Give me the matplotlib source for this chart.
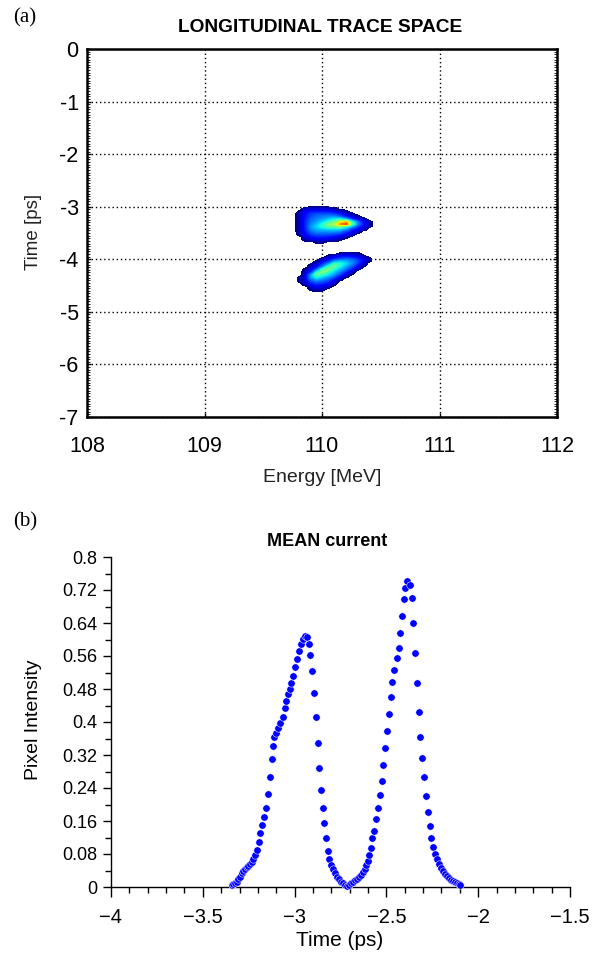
import numpy as np
import matplotlib
matplotlib.use("Agg")
import matplotlib.pyplot as plt
from matplotlib.ticker import MultipleLocator, FuncFormatter

plt.rcParams['font.family'] = ['Liberation Sans', 'DejaVu Sans']

# ---------------- Panel (a): longitudinal trace space ----------------
energy_centers = [109.80, 109.85, 109.90, 109.95, 110.00, 110.05, 110.10,
                  110.15, 110.20, 110.25, 110.30, 110.35, 110.40]
time_rows_upper = [-3.05, -3.10, -3.15, -3.20, -3.25, -3.30, -3.35,
                   -3.40, -3.45, -3.50, -3.55, -3.60, -3.65, -3.70]
density_upper = [
    [0, 0.06, 0.08, 0.08, 0.08, 0.07, 0.06, 0, 0, 0, 0, 0, 0],
    [0.04, 0.12, 0.15, 0.16, 0.16, 0.15, 0.12, 0.08, 0.05, 0, 0, 0, 0],
    [0.07, 0.15, 0.20, 0.22, 0.22, 0.22, 0.20, 0.16, 0.10, 0.05, 0, 0, 0],
    [0.07, 0.16, 0.22, 0.25, 0.27, 0.28, 0.28, 0.24, 0.16, 0.10, 0.06, 0, 0],
    [0.07, 0.17, 0.24, 0.28, 0.30, 0.34, 0.38, 0.40, 0.32, 0.20, 0.12, 0.07, 0],
    [0.07, 0.18, 0.26, 0.30, 0.36, 0.42, 0.50, 0.62, 0.70, 0.42, 0.25, 0.14, 0.06],
    [0.07, 0.18, 0.28, 0.34, 0.42, 0.52, 0.58, 0.80, 0.88, 0.50, 0.28, 0.16, 0.07],
    [0.07, 0.18, 0.30, 0.36, 0.42, 0.48, 0.50, 0.52, 0.42, 0.30, 0.20, 0.12, 0.05],
    [0.07, 0.17, 0.28, 0.32, 0.34, 0.35, 0.36, 0.34, 0.28, 0.20, 0.14, 0.08, 0],
    [0.07, 0.16, 0.24, 0.28, 0.28, 0.28, 0.28, 0.26, 0.20, 0.14, 0.08, 0, 0],
    [0.06, 0.14, 0.20, 0.22, 0.22, 0.22, 0.20, 0.18, 0.14, 0.08, 0, 0, 0],
    [0, 0.10, 0.15, 0.17, 0.17, 0.16, 0.14, 0.10, 0.06, 0, 0, 0, 0],
    [0, 0.06, 0.09, 0.10, 0.10, 0.09, 0.07, 0.05, 0, 0, 0, 0, 0],
    [0, 0, 0, 0.05, 0.05, 0, 0, 0, 0, 0, 0, 0, 0],
]
time_rows_lower = [-3.90, -3.95, -4.00, -4.05, -4.10, -4.15, -4.20, -4.25,
                   -4.30, -4.35, -4.40, -4.45, -4.50, -4.55, -4.60, -4.65]
density_lower = [
    [0, 0, 0, 0, 0, 0, 0, 0.05, 0.06, 0.06, 0.05, 0, 0],
    [0, 0, 0, 0, 0, 0.06, 0.10, 0.14, 0.15, 0.14, 0.10, 0.05, 0],
    [0, 0, 0, 0, 0.06, 0.12, 0.18, 0.22, 0.24, 0.22, 0.18, 0.12, 0.05],
    [0, 0, 0, 0.05, 0.12, 0.20, 0.30, 0.34, 0.32, 0.28, 0.22, 0.14, 0.05],
    [0, 0, 0.04, 0.10, 0.20, 0.30, 0.45, 0.42, 0.36, 0.28, 0.20, 0.10, 0],
    [0, 0, 0.08, 0.16, 0.28, 0.45, 0.50, 0.40, 0.32, 0.24, 0.14, 0.05, 0],
    [0, 0.05, 0.12, 0.24, 0.45, 0.52, 0.42, 0.34, 0.26, 0.18, 0.08, 0, 0],
    [0, 0.08, 0.18, 0.40, 0.55, 0.45, 0.36, 0.28, 0.20, 0.10, 0, 0, 0],
    [0, 0.10, 0.30, 0.50, 0.45, 0.38, 0.30, 0.22, 0.12, 0.05, 0, 0, 0],
    [0.04, 0.12, 0.32, 0.42, 0.36, 0.30, 0.24, 0.14, 0.06, 0, 0, 0, 0],
    [0.05, 0.12, 0.26, 0.32, 0.28, 0.24, 0.16, 0.08, 0, 0, 0, 0, 0],
    [0.04, 0.10, 0.20, 0.24, 0.22, 0.18, 0.10, 0, 0, 0, 0, 0, 0],
    [0, 0.07, 0.14, 0.18, 0.16, 0.12, 0.05, 0, 0, 0, 0, 0, 0],
    [0, 0, 0.08, 0.12, 0.10, 0.06, 0, 0, 0, 0, 0, 0, 0],
    [0, 0, 0.05, 0.07, 0.06, 0, 0, 0, 0, 0, 0, 0, 0],
    [0, 0, 0, 0, 0, 0, 0, 0, 0, 0, 0, 0, 0],
]
energy_ticks = [108, 109, 110, 111, 112]
time_ticks_a = [0, -1, -2, -3, -4, -5, -6, -7]

# ---------------- Panel (b): mean current ----------------
t_ps = [-3.3428, -3.3337, -3.3246, -3.3155, -3.3064, -3.2974, -3.2883, -3.2792,
        -3.2701, -3.2611, -3.2520, -3.2429, -3.2338, -3.2248, -3.2157, -3.2066,
        -3.1957, -3.1866, -3.1775, -3.1685, -3.1576, -3.1449, -3.1358, -3.1249,
        -3.1158, -3.1104, -3.1013, -3.0904, -3.0795, -3.0650, -3.0541, -3.0450,
        -3.0359, -3.0268, -3.0178, -3.0087, -2.9996, -2.9887, -2.9760, -2.9651,
        -2.9524, -2.9433, -2.9343, -2.9234, -2.9161, -2.9052, -2.8961, -2.8852,
        -2.8743, -2.8653, -2.8562, -2.8471, -2.8380, -2.8271, -2.8199, -2.8126,
        -2.8017, -2.7926, -2.7817, -2.7708, -2.7600, -2.7491, -2.7382, -2.7273,
        -2.7164, -2.7055, -2.6946, -2.6837, -2.6728, -2.6619, -2.6510, -2.6401,
        -2.6292, -2.6183, -2.6111, -2.6020, -2.5947, -2.5857, -2.5766, -2.5675,
        -2.5584, -2.5457, -2.5348, -2.5258, -2.5167, -2.5076, -2.4985, -2.4858,
        -2.4767, -2.4677, -2.4568, -2.4441, -2.4332, -2.4241, -2.4150, -2.4060,
        -2.3969, -2.3860, -2.3714, -2.3624, -2.3533, -2.3424, -2.3333, -2.3242,
        -2.3152, -2.3061, -2.2952, -2.2825, -2.2716, -2.2643, -2.2552, -2.2444,
        -2.2353, -2.2262, -2.2153, -2.2044, -2.1935, -2.1826, -2.1717, -2.1608,
        -2.1500, -2.1391, -2.1282, -2.1173, -2.1064, -2.0991]
intensity = [0.0049, 0.0065, 0.0089, 0.0130, 0.0186, 0.0251, 0.0332, 0.0396,
             0.0445, 0.0477, 0.0509, 0.0550, 0.0598, 0.0671, 0.0776, 0.0897,
             0.1099, 0.1301, 0.1503, 0.1689, 0.1923, 0.2263, 0.2667, 0.3103,
             0.3418, 0.3629, 0.3726, 0.3847, 0.3968, 0.4130, 0.4348, 0.4509,
             0.4679, 0.4800, 0.4938, 0.5124, 0.5342, 0.5528, 0.5721, 0.5883,
             0.6004, 0.6085, 0.6053, 0.5891, 0.5633, 0.5237, 0.4711, 0.4114,
             0.3483, 0.2893, 0.2360, 0.1915, 0.1544, 0.1180, 0.0873, 0.0671,
             0.0533, 0.0429, 0.0332, 0.0251, 0.0186, 0.0130, 0.0089, 0.0049,
             0.0033, 0.0049, 0.0089, 0.0121, 0.0162, 0.0202, 0.0251, 0.0299,
             0.0356, 0.0437, 0.0533, 0.0639, 0.0768, 0.0946, 0.1196, 0.1366,
             0.1641, 0.1923, 0.2231, 0.2570, 0.2950, 0.3362, 0.3790, 0.4194,
             0.4615, 0.4978, 0.5269, 0.5544, 0.5802, 0.6166, 0.6578, 0.6982,
             0.7257, 0.7410, 0.7313, 0.7006, 0.6408, 0.5681, 0.4938, 0.4243,
             0.3645, 0.3128, 0.2659, 0.2215, 0.1810, 0.1471, 0.1196, 0.0978,
             0.0800, 0.0671, 0.0550, 0.0453, 0.0380, 0.0315, 0.0267, 0.0218,
             0.0178, 0.0146, 0.0121, 0.0097, 0.0073, 0.0049]
time_ticks_b = [-4, -3.5, -3, -2.5, -2, -1.5]
intensity_ticks = [0, 0.08, 0.16, 0.24, 0.32, 0.4, 0.48, 0.56, 0.64, 0.72, 0.8]

W, H = 600, 956
fig = plt.figure(figsize=(W / 100, H / 100), dpi=100)

# ---------- axes (a) ----------
ax1 = fig.add_axes([87 / W, 1 - 417 / H, 470 / W, 368 / H])
cmap = plt.get_cmap('jet').copy()
cmap.set_under((1, 1, 1, 0))
for rows, dens in ((time_rows_upper, density_upper), (time_rows_lower, density_lower)):
    arr = np.pad(np.array(dens, dtype=float), 1)
    dE = energy_centers[1] - energy_centers[0]
    dT = abs(rows[1] - rows[0])
    ext = [energy_centers[0] - 1.5 * dE, energy_centers[-1] + 1.5 * dE,
           rows[-1] - 1.5 * dT, rows[0] + 1.5 * dT]
    ax1.imshow(arr, extent=ext, origin='upper', cmap=cmap, vmin=0.03, vmax=1.0,
               interpolation='bilinear', interpolation_stage='data', aspect='auto',
               zorder=2)
ax1.set_xlim(108, 112)
ax1.set_ylim(-7, 0)
ax1.set_xticks(energy_ticks)
ax1.set_yticks(time_ticks_a)
ax1.yaxis.set_major_formatter(FuncFormatter(lambda v, p: f"{int(round(v))}"))
ax1.xaxis.set_major_formatter(FuncFormatter(lambda v, p: f"{int(round(v))}"))
ax1.yaxis.set_minor_locator(MultipleLocator(0.05))
ax1.grid(True, which='major', linestyle=(0, (1, 2)), color='black', linewidth=1.0, zorder=1)
ax1.set_axisbelow(True)
ax1.tick_params(axis='both', which='major', direction='in', length=3, width=1,
                labelsize=15.5, right=True, top=False)
ax1.tick_params(axis='x', which='major', pad=14)
ax1.tick_params(axis='y', which='major', pad=6)
ax1.tick_params(axis='y', which='minor', direction='in', length=2, width=0.6,
                left=True, right=True)
for s in ax1.spines.values():
    s.set_linewidth(1.8)
fig.text(320 / W, 1 - 28 / H, 'LONGITUDINAL TRACE SPACE', ha='center', va='center',
         fontsize=13.8, fontweight='bold')
fig.text(322 / W, 1 - 478 / H, 'Energy [MeV]', ha='center', va='center', fontsize=14, color='#222222')
fig.text(33 / W, 1 - 232 / H, 'Time [ps]', ha='center', va='center', rotation=90, fontsize=13.5, color='#222222')

# ---------- axes (b) ----------
ax2 = fig.add_axes([111 / W, 1 - 887 / H, 459 / W, 330 / H])
ax2.scatter(t_ps, intensity, s=28, color='#0000ff', edgecolors='white', linewidths=0.35, zorder=3, clip_on=False)
ax2.set_xlim(-4, -1.5)
ax2.set_ylim(0, 0.8)
ax2.set_xticks(time_ticks_b)
ax2.set_yticks(intensity_ticks)
ax2.yaxis.set_major_formatter(FuncFormatter(lambda v, p: f"{v:g}"))
ax2.xaxis.set_major_formatter(FuncFormatter(lambda v, p: f"{v:g}".replace('-', '\u2212')))
ax2.xaxis.set_minor_locator(MultipleLocator(0.1))
ax2.yaxis.set_minor_locator(MultipleLocator(0.04))
ax2.spines['top'].set_visible(False)
ax2.spines['right'].set_visible(False)
for s in ('left', 'bottom'):
    ax2.spines[s].set_linewidth(1.0)
ax2.tick_params(axis='x', which='major', direction='out', length=7, width=1, labelsize=14.5, pad=8)
ax2.tick_params(axis='x', which='minor', direction='out', length=4, width=1)
ax2.tick_params(axis='y', which='major', direction='out', length=6, width=1, labelsize=13, pad=4)
ax2.tick_params(axis='y', which='minor', direction='out', length=4, width=1)
fig.text(327 / W, 1 - 541 / H, 'MEAN current', ha='center', va='center', fontsize=13, fontweight='bold')
fig.text(340 / W, 1 - 940 / H, 'Time (ps)', ha='center', va='center', fontsize=15)
fig.text(33 / W, 1 - 720 / H, 'Pixel Intensity', ha='center', va='center', rotation=90, fontsize=14)

# panel labels
fig.text(13 / W, 1 - 18 / H, '(a)', ha='left', va='center', fontsize=15, family=['Liberation Serif', 'DejaVu Serif'])
fig.text(13 / W, 1 - 522 / H, '(b)', ha='left', va='center', fontsize=15, family=['Liberation Serif', 'DejaVu Serif'])

fig.savefig('out.png', dpi=100)
